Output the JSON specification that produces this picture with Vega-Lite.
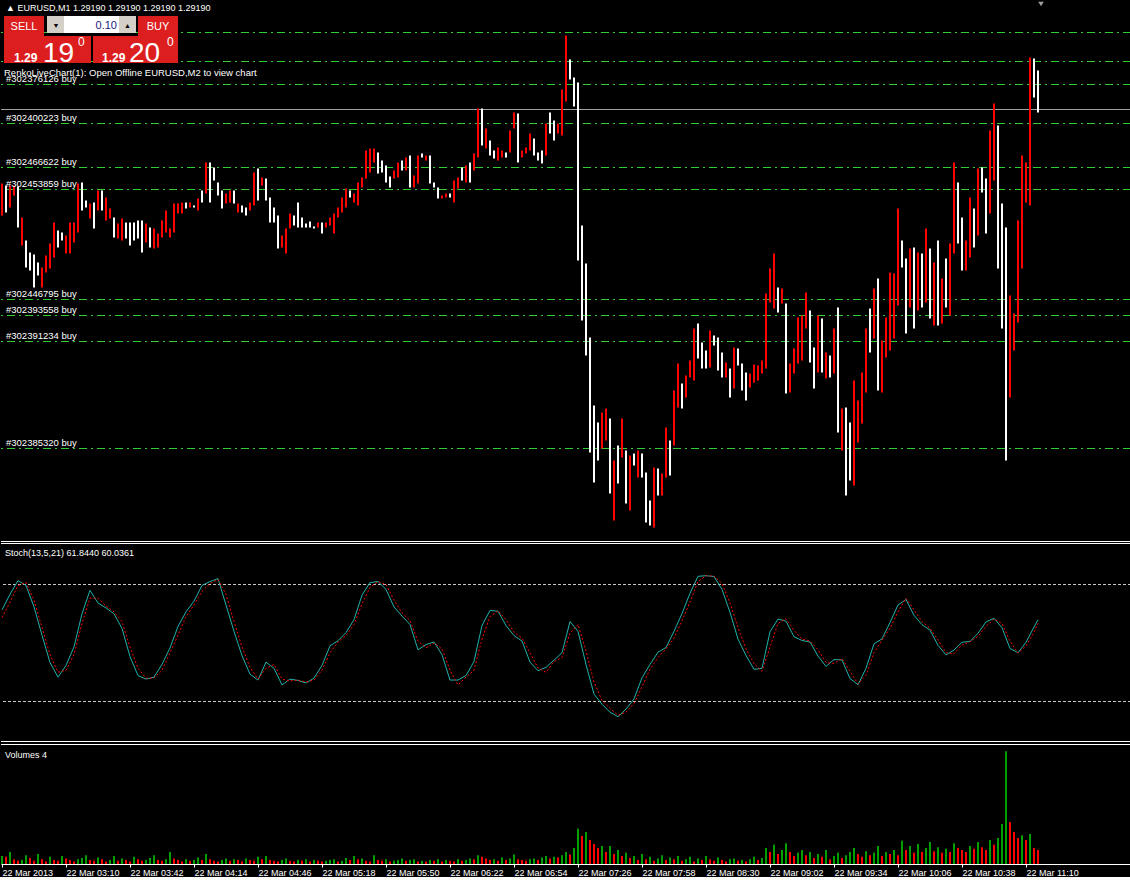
{
"$schema": "https://vega.github.io/schema/vega-lite/v6.json",
"background": "#000000",
"padding": 0,
"spacing": 0,
"config": {"view": {"stroke": null}, "text": {"font": "Liberation Sans"}},
"datasets": {
"orders": [
{"price":1.29267,"label":""},{"price":1.29238,"label":""},{"price":1.29215,"label":"#302376126 buy"},{"price":1.29176,"label":"#302400223 buy"},{"price":1.29132,"label":"#302466622 buy"},{"price":1.29110,"label":"#302453859 buy"},{"price":1.29000,"label":"#302446795 buy"},{"price":1.28984,"label":"#302393558 buy"},{"price":1.28958,"label":"#302391234 buy"},{"price":1.28851,"label":"#302385320 buy"}
],
"bars": [
{"minute":0,"high":1.29116,"low":1.29084,"dir":"up","vol":20},
{"minute":2,"high":1.29114,"low":1.29087,"dir":"down","vol":18},
{"minute":4,"high":1.29114,"low":1.29092,"dir":"up","vol":30},
{"minute":6,"high":1.29114,"low":1.29104,"dir":"up","vol":12},
{"minute":8,"high":1.29113,"low":1.29072,"dir":"down","vol":8},
{"minute":10,"high":1.29082,"low":1.29054,"dir":"up","vol":10},
{"minute":12,"high":1.29059,"low":1.29032,"dir":"down","vol":22},
{"minute":14,"high":1.29047,"low":1.29029,"dir":"down","vol":15},
{"minute":16,"high":1.29045,"low":1.29012,"dir":"down","vol":8},
{"minute":18,"high":1.29037,"low":1.29024,"dir":"down","vol":25},
{"minute":20,"high":1.29032,"low":1.29012,"dir":"up","vol":12},
{"minute":22,"high":1.29044,"low":1.29027,"dir":"up","vol":6},
{"minute":24,"high":1.29056,"low":1.29031,"dir":"up","vol":18},
{"minute":26,"high":1.29077,"low":1.29042,"dir":"up","vol":10},
{"minute":28,"high":1.29069,"low":1.29052,"dir":"down","vol":8},
{"minute":30,"high":1.29067,"low":1.29059,"dir":"down","vol":20},
{"minute":32,"high":1.29064,"low":1.29046,"dir":"up","vol":14},
{"minute":34,"high":1.29077,"low":1.29046,"dir":"up","vol":10},
{"minute":36,"high":1.29077,"low":1.29057,"dir":"up","vol":6},
{"minute":38,"high":1.29116,"low":1.29067,"dir":"up","vol":12},
{"minute":40,"high":1.29117,"low":1.29089,"dir":"down","vol":15},
{"minute":42,"high":1.29099,"low":1.29092,"dir":"down","vol":22},
{"minute":44,"high":1.29096,"low":1.29081,"dir":"up","vol":10},
{"minute":46,"high":1.29097,"low":1.29071,"dir":"down","vol":8},
{"minute":48,"high":1.29109,"low":1.29089,"dir":"up","vol":16},
{"minute":50,"high":1.29109,"low":1.29089,"dir":"down","vol":12},
{"minute":52,"high":1.29102,"low":1.29079,"dir":"up","vol":6},
{"minute":54,"high":1.29091,"low":1.29081,"dir":"up","vol":10},
{"minute":56,"high":1.29082,"low":1.29062,"dir":"down","vol":20},
{"minute":58,"high":1.29076,"low":1.29061,"dir":"up","vol":8},
{"minute":60,"high":1.29081,"low":1.29059,"dir":"up","vol":14},
{"minute":62,"high":1.29077,"low":1.29061,"dir":"down","vol":10},
{"minute":64,"high":1.29077,"low":1.29054,"dir":"down","vol":6},
{"minute":66,"high":1.29077,"low":1.29059,"dir":"down","vol":18},
{"minute":68,"high":1.29079,"low":1.29061,"dir":"down","vol":12},
{"minute":70,"high":1.29079,"low":1.29047,"dir":"down","vol":8},
{"minute":72,"high":1.29076,"low":1.29057,"dir":"up","vol":10},
{"minute":74,"high":1.29072,"low":1.29052,"dir":"down","vol":15},
{"minute":76,"high":1.29071,"low":1.29051,"dir":"up","vol":22},
{"minute":78,"high":1.29066,"low":1.29052,"dir":"up","vol":10},
{"minute":80,"high":1.29079,"low":1.29062,"dir":"up","vol":8},
{"minute":82,"high":1.29089,"low":1.29067,"dir":"up","vol":12},
{"minute":84,"high":1.29071,"low":1.29062,"dir":"up","vol":30},
{"minute":86,"high":1.29096,"low":1.29067,"dir":"up","vol":14},
{"minute":88,"high":1.29096,"low":1.29086,"dir":"up","vol":10},
{"minute":90,"high":1.29097,"low":1.29086,"dir":"up","vol":6},
{"minute":92,"high":1.29097,"low":1.29091,"dir":"down","vol":12},
{"minute":94,"high":1.29097,"low":1.29092,"dir":"up","vol":8},
{"minute":96,"high":1.29094,"low":1.29092,"dir":"down","vol":10},
{"minute":98,"high":1.29101,"low":1.29089,"dir":"up","vol":16},
{"minute":100,"high":1.29109,"low":1.29097,"dir":"down","vol":10},
{"minute":102,"high":1.29137,"low":1.29106,"dir":"up","vol":25},
{"minute":104,"high":1.29137,"low":1.29097,"dir":"down","vol":12},
{"minute":106,"high":1.29132,"low":1.29119,"dir":"down","vol":8},
{"minute":108,"high":1.29117,"low":1.29104,"dir":"down","vol":6},
{"minute":110,"high":1.29109,"low":1.29091,"dir":"down","vol":10},
{"minute":112,"high":1.29106,"low":1.29096,"dir":"up","vol":14},
{"minute":114,"high":1.29109,"low":1.29097,"dir":"up","vol":8},
{"minute":116,"high":1.29109,"low":1.29096,"dir":"down","vol":12},
{"minute":118,"high":1.29096,"low":1.29087,"dir":"up","vol":10},
{"minute":120,"high":1.29094,"low":1.29087,"dir":"down","vol":6},
{"minute":122,"high":1.29092,"low":1.29084,"dir":"down","vol":14},
{"minute":124,"high":1.29097,"low":1.29089,"dir":"up","vol":10},
{"minute":126,"high":1.29127,"low":1.29094,"dir":"up","vol":8},
{"minute":128,"high":1.29131,"low":1.29099,"dir":"down","vol":18},
{"minute":130,"high":1.29122,"low":1.29114,"dir":"up","vol":12},
{"minute":132,"high":1.29121,"low":1.29099,"dir":"down","vol":20},
{"minute":134,"high":1.29102,"low":1.29077,"dir":"down","vol":10},
{"minute":136,"high":1.29092,"low":1.29077,"dir":"down","vol":8},
{"minute":138,"high":1.29084,"low":1.29051,"dir":"down","vol":6},
{"minute":140,"high":1.29064,"low":1.29052,"dir":"up","vol":10},
{"minute":142,"high":1.29071,"low":1.29046,"dir":"up","vol":14},
{"minute":144,"high":1.29086,"low":1.29071,"dir":"up","vol":8},
{"minute":146,"high":1.29084,"low":1.29074,"dir":"down","vol":6},
{"minute":148,"high":1.29097,"low":1.29072,"dir":"down","vol":10},
{"minute":150,"high":1.29082,"low":1.29072,"dir":"down","vol":8},
{"minute":152,"high":1.29076,"low":1.29072,"dir":"down","vol":12},
{"minute":154,"high":1.29078,"low":1.29072,"dir":"down","vol":6},
{"minute":156,"high":1.29073,"low":1.29071,"dir":"down","vol":10},
{"minute":158,"high":1.29077,"low":1.29072,"dir":"up","vol":8},
{"minute":160,"high":1.29077,"low":1.29066,"dir":"down","vol":6},
{"minute":162,"high":1.29077,"low":1.29072,"dir":"up","vol":8},
{"minute":164,"high":1.29082,"low":1.29074,"dir":"up","vol":10},
{"minute":166,"high":1.29086,"low":1.29066,"dir":"up","vol":12},
{"minute":168,"high":1.29092,"low":1.29082,"dir":"up","vol":6},
{"minute":170,"high":1.29102,"low":1.29087,"dir":"up","vol":8},
{"minute":172,"high":1.29111,"low":1.29092,"dir":"up","vol":15},
{"minute":174,"high":1.29109,"low":1.29102,"dir":"down","vol":10},
{"minute":176,"high":1.29106,"low":1.29097,"dir":"up","vol":20},
{"minute":178,"high":1.29117,"low":1.29094,"dir":"up","vol":12},
{"minute":180,"high":1.29122,"low":1.29112,"dir":"up","vol":14},
{"minute":182,"high":1.29149,"low":1.29121,"dir":"up","vol":8},
{"minute":184,"high":1.29151,"low":1.29127,"dir":"up","vol":6},
{"minute":186,"high":1.29151,"low":1.29137,"dir":"up","vol":22},
{"minute":188,"high":1.29147,"low":1.29126,"dir":"down","vol":10},
{"minute":190,"high":1.29139,"low":1.29127,"dir":"down","vol":8},
{"minute":192,"high":1.29134,"low":1.29117,"dir":"down","vol":12},
{"minute":194,"high":1.29123,"low":1.29112,"dir":"down","vol":6},
{"minute":196,"high":1.29129,"low":1.29121,"dir":"up","vol":8},
{"minute":198,"high":1.29137,"low":1.29122,"dir":"up","vol":10},
{"minute":200,"high":1.29139,"low":1.29129,"dir":"down","vol":14},
{"minute":202,"high":1.29142,"low":1.29129,"dir":"up","vol":8},
{"minute":204,"high":1.29144,"low":1.29112,"dir":"down","vol":10},
{"minute":206,"high":1.29124,"low":1.29112,"dir":"up","vol":12},
{"minute":208,"high":1.29144,"low":1.29116,"dir":"up","vol":6},
{"minute":210,"high":1.29146,"low":1.29142,"dir":"down","vol":8},
{"minute":212,"high":1.29144,"low":1.29139,"dir":"up","vol":6},
{"minute":214,"high":1.29144,"low":1.29116,"dir":"down","vol":10},
{"minute":216,"high":1.29117,"low":1.29112,"dir":"down","vol":8},
{"minute":218,"high":1.29112,"low":1.29101,"dir":"down","vol":12},
{"minute":220,"high":1.29104,"low":1.29101,"dir":"up","vol":6},
{"minute":222,"high":1.29106,"low":1.29102,"dir":"up","vol":10},
{"minute":224,"high":1.29106,"low":1.29102,"dir":"down","vol":8},
{"minute":226,"high":1.29119,"low":1.29097,"dir":"up","vol":6},
{"minute":228,"high":1.29122,"low":1.29111,"dir":"up","vol":12},
{"minute":230,"high":1.29132,"low":1.29119,"dir":"down","vol":8},
{"minute":232,"high":1.29134,"low":1.29117,"dir":"up","vol":10},
{"minute":234,"high":1.29137,"low":1.29117,"dir":"down","vol":14},
{"minute":236,"high":1.29146,"low":1.29129,"dir":"up","vol":12},
{"minute":238,"high":1.29191,"low":1.29142,"dir":"up","vol":22},
{"minute":240,"high":1.29191,"low":1.29154,"dir":"down","vol":18},
{"minute":242,"high":1.29171,"low":1.29151,"dir":"up","vol":14},
{"minute":244,"high":1.29159,"low":1.29144,"dir":"down","vol":10},
{"minute":246,"high":1.29149,"low":1.29141,"dir":"down","vol":12},
{"minute":248,"high":1.29152,"low":1.29139,"dir":"up","vol":8},
{"minute":250,"high":1.29149,"low":1.29142,"dir":"up","vol":16},
{"minute":252,"high":1.29147,"low":1.29142,"dir":"down","vol":10},
{"minute":254,"high":1.29169,"low":1.29147,"dir":"up","vol":14},
{"minute":256,"high":1.29187,"low":1.29171,"dir":"up","vol":24},
{"minute":258,"high":1.29186,"low":1.29137,"dir":"down","vol":12},
{"minute":260,"high":1.29149,"low":1.29142,"dir":"up","vol":10},
{"minute":262,"high":1.29152,"low":1.29146,"dir":"up","vol":8},
{"minute":264,"high":1.29166,"low":1.29149,"dir":"up","vol":12},
{"minute":266,"high":1.29161,"low":1.29144,"dir":"down","vol":14},
{"minute":268,"high":1.29147,"low":1.29139,"dir":"down","vol":10},
{"minute":270,"high":1.29149,"low":1.29136,"dir":"down","vol":16},
{"minute":272,"high":1.29176,"low":1.29144,"dir":"up","vol":20},
{"minute":274,"high":1.29187,"low":1.29166,"dir":"down","vol":14},
{"minute":276,"high":1.29179,"low":1.29159,"dir":"down","vol":18},
{"minute":278,"high":1.29176,"low":1.29166,"dir":"up","vol":16},
{"minute":280,"high":1.29210,"low":1.29164,"dir":"up","vol":22},
{"minute":282,"high":1.29264,"low":1.29198,"dir":"up","vol":30},
{"minute":284,"high":1.29240,"low":1.29220,"dir":"down","vol":24},
{"minute":286,"high":1.29222,"low":1.29193,"dir":"down","vol":40},
{"minute":288,"high":1.29217,"low":1.29039,"dir":"down","vol":88},
{"minute":290,"high":1.29074,"low":1.28979,"dir":"down","vol":70},
{"minute":292,"high":1.29036,"low":1.28944,"dir":"down","vol":80},
{"minute":294,"high":1.28962,"low":1.28847,"dir":"down","vol":60},
{"minute":296,"high":1.28894,"low":1.28817,"dir":"down","vol":50},
{"minute":298,"high":1.28877,"low":1.28839,"dir":"down","vol":40},
{"minute":300,"high":1.28887,"low":1.28851,"dir":"up","vol":45},
{"minute":302,"high":1.28891,"low":1.28859,"dir":"up","vol":30},
{"minute":304,"high":1.28881,"low":1.28806,"dir":"down","vol":45},
{"minute":306,"high":1.28839,"low":1.28779,"dir":"up","vol":25},
{"minute":308,"high":1.28854,"low":1.28816,"dir":"down","vol":35},
{"minute":310,"high":1.28881,"low":1.28842,"dir":"up","vol":20},
{"minute":312,"high":1.28849,"low":1.28796,"dir":"down","vol":28},
{"minute":314,"high":1.28844,"low":1.28789,"dir":"up","vol":15},
{"minute":316,"high":1.28846,"low":1.28834,"dir":"down","vol":20},
{"minute":318,"high":1.28849,"low":1.28822,"dir":"up","vol":10},
{"minute":320,"high":1.28846,"low":1.28822,"dir":"down","vol":25},
{"minute":322,"high":1.28827,"low":1.28777,"dir":"down","vol":12},
{"minute":324,"high":1.28799,"low":1.28774,"dir":"down","vol":18},
{"minute":326,"high":1.28832,"low":1.28772,"dir":"up","vol":8},
{"minute":328,"high":1.28831,"low":1.28804,"dir":"down","vol":14},
{"minute":330,"high":1.28826,"low":1.28804,"dir":"up","vol":22},
{"minute":332,"high":1.28872,"low":1.28822,"dir":"up","vol":10},
{"minute":334,"high":1.28859,"low":1.28824,"dir":"down","vol":16},
{"minute":336,"high":1.28909,"low":1.28854,"dir":"up","vol":12},
{"minute":338,"high":1.28936,"low":1.28892,"dir":"up","vol":20},
{"minute":340,"high":1.28916,"low":1.28891,"dir":"down","vol":8},
{"minute":342,"high":1.28924,"low":1.28902,"dir":"up","vol":12},
{"minute":344,"high":1.28939,"low":1.28922,"dir":"up","vol":18},
{"minute":346,"high":1.28971,"low":1.28919,"dir":"up","vol":6},
{"minute":348,"high":1.28976,"low":1.28941,"dir":"down","vol":14},
{"minute":350,"high":1.28957,"low":1.28931,"dir":"down","vol":10},
{"minute":352,"high":1.28949,"low":1.28931,"dir":"down","vol":20},
{"minute":354,"high":1.28969,"low":1.28932,"dir":"up","vol":12},
{"minute":356,"high":1.28964,"low":1.28954,"dir":"down","vol":8},
{"minute":358,"high":1.28962,"low":1.28929,"dir":"down","vol":16},
{"minute":360,"high":1.28947,"low":1.28922,"dir":"down","vol":10},
{"minute":362,"high":1.28937,"low":1.28922,"dir":"up","vol":6},
{"minute":364,"high":1.28931,"low":1.28902,"dir":"down","vol":12},
{"minute":366,"high":1.28952,"low":1.28911,"dir":"up","vol":14},
{"minute":368,"high":1.28951,"low":1.28934,"dir":"down","vol":8},
{"minute":370,"high":1.28936,"low":1.28909,"dir":"down","vol":10},
{"minute":372,"high":1.28927,"low":1.28899,"dir":"down","vol":6},
{"minute":374,"high":1.28926,"low":1.28912,"dir":"up","vol":12},
{"minute":376,"high":1.28935,"low":1.28917,"dir":"up","vol":18},
{"minute":378,"high":1.28934,"low":1.28919,"dir":"up","vol":10},
{"minute":380,"high":1.28939,"low":1.28926,"dir":"up","vol":15},
{"minute":382,"high":1.29006,"low":1.28931,"dir":"up","vol":40},
{"minute":384,"high":1.29031,"low":1.28997,"dir":"up","vol":30},
{"minute":386,"high":1.29046,"low":1.28991,"dir":"up","vol":48},
{"minute":388,"high":1.29012,"low":1.28987,"dir":"down","vol":25},
{"minute":390,"high":1.29011,"low":1.28996,"dir":"up","vol":35},
{"minute":392,"high":1.28996,"low":1.28906,"dir":"down","vol":52},
{"minute":394,"high":1.28936,"low":1.28907,"dir":"up","vol":30},
{"minute":396,"high":1.28951,"low":1.28926,"dir":"up","vol":20},
{"minute":398,"high":1.28982,"low":1.28936,"dir":"up","vol":28},
{"minute":400,"high":1.28984,"low":1.28939,"dir":"up","vol":35},
{"minute":402,"high":1.29007,"low":1.28971,"dir":"up","vol":22},
{"minute":404,"high":1.28989,"low":1.28937,"dir":"down","vol":30},
{"minute":406,"high":1.28952,"low":1.28911,"dir":"down","vol":15},
{"minute":408,"high":1.28984,"low":1.28927,"dir":"up","vol":25},
{"minute":410,"high":1.28981,"low":1.28927,"dir":"down","vol":18},
{"minute":412,"high":1.28947,"low":1.28921,"dir":"up","vol":35},
{"minute":414,"high":1.28944,"low":1.28922,"dir":"down","vol":12},
{"minute":416,"high":1.28971,"low":1.28926,"dir":"up","vol":20},
{"minute":418,"high":1.28992,"low":1.28867,"dir":"down","vol":28},
{"minute":420,"high":1.28891,"low":1.28849,"dir":"up","vol":15},
{"minute":422,"high":1.28892,"low":1.28804,"dir":"down","vol":22},
{"minute":424,"high":1.28877,"low":1.28819,"dir":"down","vol":30},
{"minute":426,"high":1.28919,"low":1.28814,"dir":"up","vol":40},
{"minute":428,"high":1.28899,"low":1.28857,"dir":"up","vol":25},
{"minute":430,"high":1.28927,"low":1.28876,"dir":"up","vol":18},
{"minute":432,"high":1.28971,"low":1.28907,"dir":"up","vol":32},
{"minute":434,"high":1.28991,"low":1.28947,"dir":"down","vol":22},
{"minute":436,"high":1.29011,"low":1.28961,"dir":"up","vol":28},
{"minute":438,"high":1.29021,"low":1.28909,"dir":"down","vol":45},
{"minute":440,"high":1.28959,"low":1.28907,"dir":"up","vol":20},
{"minute":442,"high":1.28982,"low":1.28942,"dir":"up","vol":30},
{"minute":444,"high":1.29027,"low":1.28949,"dir":"up","vol":25},
{"minute":446,"high":1.29026,"low":1.28961,"dir":"up","vol":35},
{"minute":448,"high":1.29091,"low":1.28994,"dir":"up","vol":22},
{"minute":450,"high":1.29059,"low":1.29032,"dir":"down","vol":58},
{"minute":452,"high":1.29041,"low":1.28966,"dir":"down","vol":35},
{"minute":454,"high":1.29051,"low":1.28992,"dir":"up","vol":45},
{"minute":456,"high":1.29052,"low":1.28971,"dir":"down","vol":28},
{"minute":458,"high":1.29047,"low":1.28989,"dir":"up","vol":50},
{"minute":460,"high":1.29046,"low":1.28992,"dir":"down","vol":30},
{"minute":462,"high":1.29071,"low":1.28997,"dir":"up","vol":40},
{"minute":464,"high":1.29051,"low":1.28981,"dir":"down","vol":55},
{"minute":466,"high":1.29037,"low":1.28974,"dir":"up","vol":32},
{"minute":468,"high":1.29059,"low":1.28974,"dir":"down","vol":42},
{"minute":470,"high":1.29021,"low":1.28976,"dir":"up","vol":28},
{"minute":472,"high":1.29041,"low":1.28992,"dir":"down","vol":38},
{"minute":474,"high":1.29056,"low":1.28984,"dir":"up","vol":30},
{"minute":476,"high":1.29137,"low":1.29046,"dir":"up","vol":52},
{"minute":478,"high":1.29117,"low":1.29056,"dir":"down","vol":40},
{"minute":480,"high":1.29082,"low":1.29029,"dir":"down","vol":35},
{"minute":482,"high":1.29059,"low":1.29029,"dir":"up","vol":30},
{"minute":484,"high":1.29102,"low":1.29042,"dir":"up","vol":45},
{"minute":486,"high":1.29091,"low":1.29052,"dir":"down","vol":38},
{"minute":488,"high":1.29131,"low":1.29064,"dir":"up","vol":55},
{"minute":490,"high":1.29132,"low":1.29107,"dir":"down","vol":42},
{"minute":492,"high":1.29121,"low":1.29066,"dir":"down","vol":35},
{"minute":494,"high":1.29169,"low":1.29086,"dir":"up","vol":60},
{"minute":496,"high":1.29196,"low":1.29119,"dir":"up","vol":48},
{"minute":498,"high":1.29174,"low":1.29031,"dir":"down","vol":65},
{"minute":500,"high":1.29096,"low":1.28971,"dir":"down","vol":100},
{"minute":502,"high":1.29072,"low":1.28839,"dir":"down","vol":282},
{"minute":504,"high":1.29004,"low":1.28902,"dir":"up","vol":105},
{"minute":506,"high":1.28986,"low":1.28949,"dir":"up","vol":80},
{"minute":508,"high":1.29079,"low":1.28977,"dir":"up","vol":65},
{"minute":510,"high":1.29144,"low":1.29031,"dir":"up","vol":72},
{"minute":512,"high":1.29137,"low":1.29097,"dir":"up","vol":60},
{"minute":514,"high":1.29242,"low":1.29094,"dir":"up","vol":75},
{"minute":516,"high":1.29241,"low":1.29202,"dir":"down","vol":40},
{"minute":518,"high":1.29229,"low":1.29187,"dir":"down","vol":35}
],
"stoch": [
{"minute":0,"k":67,"d":63},{"minute":4,"k":75,"d":71},{"minute":8,"k":82,"d":79.5},{"minute":12,"k":79.5,"d":81},{"minute":16,"k":68.5,"d":72},{"minute":20,"k":54,"d":58},{"minute":24,"k":40,"d":44},{"minute":28,"k":32.5,"d":35},{"minute":32,"k":38.5,"d":36},{"minute":36,"k":48,"d":44},
{"minute":40,"k":65,"d":60},{"minute":44,"k":77,"d":73},{"minute":48,"k":70.5,"d":73},{"minute":52,"k":68,"d":69},{"minute":56,"k":65,"d":66},{"minute":60,"k":57.5,"d":61},{"minute":64,"k":43,"d":48},{"minute":68,"k":33.3,"d":37},{"minute":72,"k":31.5,"d":32},{"minute":76,"k":32.5,"d":32},
{"minute":80,"k":39,"d":36},{"minute":84,"k":47.5,"d":45},{"minute":88,"k":58.5,"d":54},{"minute":92,"k":66,"d":63.5},{"minute":96,"k":71.5,"d":69.5},{"minute":100,"k":79.5,"d":76.5},{"minute":104,"k":81.5,"d":80.5},{"minute":108,"k":83,"d":82.5},{"minute":112,"k":69.5,"d":75},{"minute":116,"k":56,"d":61},
{"minute":120,"k":43.5,"d":48},{"minute":124,"k":34,"d":37.5},{"minute":128,"k":31,"d":31.5},{"minute":132,"k":40.2,"d":37},{"minute":136,"k":37,"d":39},{"minute":140,"k":28.5,"d":31.5},{"minute":144,"k":31.5,"d":30.5},{"minute":148,"k":30.8,"d":31},{"minute":152,"k":29.5,"d":30},{"minute":156,"k":32,"d":31},
{"minute":160,"k":38.5,"d":36},{"minute":164,"k":48.5,"d":45},{"minute":168,"k":51.2,"d":50.5},{"minute":172,"k":55.3,"d":53.8},{"minute":176,"k":62,"d":59.5},{"minute":180,"k":74.5,"d":70},{"minute":184,"k":81,"d":78.5},{"minute":188,"k":81.5,"d":81.5},{"minute":192,"k":77.5,"d":80},{"minute":196,"k":68.5,"d":72},
{"minute":200,"k":63.8,"d":65.5},{"minute":204,"k":59.5,"d":61.5},{"minute":208,"k":46.5,"d":51},{"minute":212,"k":49.2,"d":47.5},{"minute":216,"k":50.5,"d":50},{"minute":220,"k":44,"d":47},{"minute":224,"k":31,"d":36},{"minute":228,"k":31,"d":28.5},{"minute":232,"k":33.3,"d":32.5},{"minute":236,"k":40.5,"d":36},
{"minute":240,"k":59,"d":52},{"minute":244,"k":66.7,"d":63.5},{"minute":248,"k":66.3,"d":66.5},{"minute":252,"k":59,"d":62},{"minute":256,"k":53.8,"d":55.5},{"minute":260,"k":51,"d":52.5},{"minute":264,"k":40.2,"d":45},{"minute":268,"k":35.8,"d":37.2},{"minute":272,"k":37.5,"d":35},{"minute":276,"k":41.2,"d":40.5},
{"minute":280,"k":45,"d":42.5},{"minute":284,"k":61,"d":55},{"minute":288,"k":56,"d":59.5},{"minute":292,"k":39,"d":46},{"minute":296,"k":23.8,"d":30},{"minute":300,"k":18.6,"d":20.5},{"minute":304,"k":14.5,"d":16.5},{"minute":308,"k":12.2,"d":13},{"minute":312,"k":16.1,"d":14.5},{"minute":316,"k":21.3,"d":19},
{"minute":320,"k":32.2,"d":27.5},{"minute":324,"k":39,"d":36.5},{"minute":328,"k":45.3,"d":42.5},{"minute":332,"k":47.7,"d":47},{"minute":336,"k":56,"d":52.5},{"minute":340,"k":65.1,"d":61.5},{"minute":344,"k":75.5,"d":71},{"minute":348,"k":84.2,"d":81.5},{"minute":352,"k":84.5,"d":84.5},{"minute":356,"k":84.1,"d":84.3},
{"minute":360,"k":77.5,"d":80.5},{"minute":364,"k":65.7,"d":70.5},{"minute":368,"k":52,"d":58},{"minute":372,"k":43.6,"d":47},{"minute":376,"k":36.5,"d":39.5},{"minute":380,"k":37,"d":35.5},{"minute":384,"k":55.8,"d":48},{"minute":388,"k":62.3,"d":60},{"minute":392,"k":61.2,"d":62.5},{"minute":396,"k":53.2,"d":56.5},
{"minute":400,"k":51.3,"d":52},{"minute":404,"k":50.5,"d":51},{"minute":408,"k":43.3,"d":46.5},{"minute":412,"k":38,"d":40},{"minute":416,"k":41.5,"d":39.5},{"minute":420,"k":41.3,"d":42},{"minute":424,"k":31.8,"d":35.5},{"minute":428,"k":28.6,"d":29},{"minute":432,"k":37,"d":33.5},{"minute":436,"k":49.6,"d":45},
{"minute":440,"k":52.1,"d":51.5},{"minute":444,"k":60.5,"d":57.5},{"minute":448,"k":69.5,"d":66},{"minute":452,"k":72.3,"d":73},{"minute":456,"k":64.2,"d":67},{"minute":460,"k":59.4,"d":61},{"minute":464,"k":56.6,"d":57.5},{"minute":468,"k":48.8,"d":51.5},{"minute":472,"k":43.9,"d":45},{"minute":476,"k":46.4,"d":44.5},
{"minute":480,"k":50.4,"d":49},{"minute":484,"k":50.8,"d":50.6},{"minute":488,"k":55,"d":53.5},{"minute":492,"k":60.8,"d":58.5},{"minute":496,"k":62.7,"d":62.3},{"minute":500,"k":57.8,"d":60},{"minute":504,"k":47.2,"d":51},{"minute":508,"k":45,"d":44.8},{"minute":512,"k":50.4,"d":48.5},{"minute":516,"k":58.2,"d":55.5},
{"minute":518,"k":61.844,"d":60.036}
]
},
"vconcat": [
{
"width": 1130, "height": 542,
"layer": [
{"data": {"name": "orders"}, "mark": {"type": "rule", "color": "#32cd32", "strokeWidth": 1, "strokeDash": [8, 4, 2, 4]},
 "encoding": {"y": {"field": "price", "type": "quantitative", "scale": {"domain": [1.287575, 1.292995], "nice": false, "zero": false}, "axis": null}}},
{"data": {"values": [{}]}, "mark": {"type": "rule", "color": "#a0a0a0", "strokeWidth": 1},
 "encoding": {"y": {"datum": 1.2919, "type": "quantitative", "axis": null}}},
{"data": {"name": "bars"}, "mark": {"type": "rule", "strokeWidth": 2},
 "encoding": {
  "x": {"field": "minute", "type": "quantitative", "scale": {"domain": [-0.5, 564.5], "nice": false, "zero": false}, "axis": null},
  "y": {"field": "high", "type": "quantitative", "axis": null},
  "y2": {"field": "low"},
  "color": {"field": "dir", "type": "nominal", "scale": {"domain": ["up", "down"], "range": ["#ff0000", "#ffffff"]}, "legend": null}}},
{"data": {"values": [{}]}, "mark": {"type": "rule", "color": "#ffffff", "strokeWidth": 1},
 "encoding": {"y": {"datum": 1.28758, "type": "quantitative", "axis": null}}},
{"data": {"name": "orders"}, "transform": [{"filter": "datum.label != ''"}],
 "mark": {"type": "text", "align": "left", "baseline": "alphabetic", "dy": -3, "fontSize": 9.5, "color": "#ffffff"},
 "encoding": {"x": {"datum": 2, "type": "quantitative", "axis": null}, "y": {"field": "price", "type": "quantitative", "axis": null}, "text": {"field": "label"}}},
{"data": {"values": [{}]}, "mark": {"type": "text", "text": "\u25b2 EURUSD,M1  1.29190 1.29190 1.29190 1.29190", "align": "left", "baseline": "alphabetic", "fontSize": 9, "color": "#ffffff"},
 "encoding": {"x": {"datum": 2, "type": "quantitative", "axis": null}, "y": {"datum": 1.292885, "type": "quantitative", "axis": null}}},
{"data": {"values": [{}]}, "mark": {"type": "text", "text": "RenkoLiveChart(1): Open Offline EURUSD,M2 to view chart", "align": "left", "baseline": "alphabetic", "fontSize": 9.5, "color": "#ffffff"},
 "encoding": {"x": {"datum": 1, "type": "quantitative", "axis": null}, "y": {"datum": 1.292235, "type": "quantitative", "axis": null}}},
{"data": {"values": [{}]}, "mark": {"type": "point", "shape": "triangle-down", "size": 30, "filled": true, "color": "#a0a0a0", "opacity": 1},
 "encoding": {"x": {"datum": 519.5, "type": "quantitative", "axis": null}, "y": {"datum": 1.292955, "type": "quantitative", "axis": null}}},
{"data": {"values": [{}]}, "mark": {"type": "rect", "color": "#dc1e1e"},
 "encoding": {"x": {"datum": 1, "type": "quantitative", "axis": null}, "x2": {"datum": 21}, "y": {"datum": 1.292835, "type": "quantitative", "axis": null}, "y2": {"datum": 1.292635}}},
{"data": {"values": [{}]}, "mark": {"type": "rect", "color": "#dc1e1e"},
 "encoding": {"x": {"datum": 1, "type": "quantitative", "axis": null}, "x2": {"datum": 44.5}, "y": {"datum": 1.292635, "type": "quantitative", "axis": null}, "y2": {"datum": 1.292365}}},
{"data": {"values": [{}]}, "mark": {"type": "rect", "color": "#dc1e1e"},
 "encoding": {"x": {"datum": 68, "type": "quantitative", "axis": null}, "x2": {"datum": 88}, "y": {"datum": 1.292835, "type": "quantitative", "axis": null}, "y2": {"datum": 1.292635}}},
{"data": {"values": [{}]}, "mark": {"type": "rect", "color": "#dc1e1e"},
 "encoding": {"x": {"datum": 45.5, "type": "quantitative", "axis": null}, "x2": {"datum": 88}, "y": {"datum": 1.292635, "type": "quantitative", "axis": null}, "y2": {"datum": 1.292365}}},
{"data": {"values": [{}]}, "mark": {"type": "rect", "color": "#d4d0c8"},
 "encoding": {"x": {"datum": 22.5, "type": "quantitative", "axis": null}, "x2": {"datum": 31}, "y": {"datum": 1.292835, "type": "quantitative", "axis": null}, "y2": {"datum": 1.292665}}},
{"data": {"values": [{}]}, "mark": {"type": "rect", "color": "#ffffff"},
 "encoding": {"x": {"datum": 31, "type": "quantitative", "axis": null}, "x2": {"datum": 58.5}, "y": {"datum": 1.292835, "type": "quantitative", "axis": null}, "y2": {"datum": 1.292665}}},
{"data": {"values": [{}]}, "mark": {"type": "rect", "color": "#d4d0c8"},
 "encoding": {"x": {"datum": 58.5, "type": "quantitative", "axis": null}, "x2": {"datum": 67}, "y": {"datum": 1.292835, "type": "quantitative", "axis": null}, "y2": {"datum": 1.292665}}},
{"data": {"values": [{}]}, "mark": {"type": "text", "text": "SELL", "align": "center", "baseline": "alphabetic", "fontSize": 11, "color": "#ffffff"},
 "encoding": {"x": {"datum": 11, "type": "quantitative", "axis": null}, "y": {"datum": 1.292695, "type": "quantitative", "axis": null}}},
{"data": {"values": [{}]}, "mark": {"type": "text", "text": "BUY", "align": "center", "baseline": "alphabetic", "fontSize": 11, "color": "#ffffff"},
 "encoding": {"x": {"datum": 78, "type": "quantitative", "axis": null}, "y": {"datum": 1.292695, "type": "quantitative", "axis": null}}},
{"data": {"values": [{}]}, "mark": {"type": "text", "text": "0.10", "align": "right", "baseline": "alphabetic", "fontSize": 11, "color": "#1a1a80"},
 "encoding": {"x": {"datum": 57.5, "type": "quantitative", "axis": null}, "y": {"datum": 1.292705, "type": "quantitative", "axis": null}}},
{"data": {"values": [{}]}, "mark": {"type": "text", "text": "\u25bc", "align": "center", "baseline": "alphabetic", "fontSize": 7, "color": "#000000"},
 "encoding": {"x": {"datum": 27, "type": "quantitative", "axis": null}, "y": {"datum": 1.292715, "type": "quantitative", "axis": null}}},
{"data": {"values": [{}]}, "mark": {"type": "text", "text": "\u25b2", "align": "center", "baseline": "alphabetic", "fontSize": 7, "color": "#000000"},
 "encoding": {"x": {"datum": 62.75, "type": "quantitative", "axis": null}, "y": {"datum": 1.292715, "type": "quantitative", "axis": null}}},
{"data": {"values": [{}]}, "mark": {"type": "text", "text": "1.29", "align": "left", "baseline": "alphabetic", "fontSize": 12, "fontWeight": "bold", "color": "#ffffff"},
 "encoding": {"x": {"datum": 6, "type": "quantitative", "axis": null}, "y": {"datum": 1.292375, "type": "quantitative", "axis": null}}},
{"data": {"values": [{}]}, "mark": {"type": "text", "text": "19", "align": "left", "baseline": "alphabetic", "fontSize": 28, "color": "#ffffff"},
 "encoding": {"x": {"datum": 20.5, "type": "quantitative", "axis": null}, "y": {"datum": 1.292375, "type": "quantitative", "axis": null}}},
{"data": {"values": [{}]}, "mark": {"type": "text", "text": "0", "align": "left", "baseline": "alphabetic", "fontSize": 12, "color": "#ffffff"},
 "encoding": {"x": {"datum": 38, "type": "quantitative", "axis": null}, "y": {"datum": 1.292535, "type": "quantitative", "axis": null}}},
{"data": {"values": [{}]}, "mark": {"type": "text", "text": "1.29", "align": "left", "baseline": "alphabetic", "fontSize": 12, "fontWeight": "bold", "color": "#ffffff"},
 "encoding": {"x": {"datum": 50, "type": "quantitative", "axis": null}, "y": {"datum": 1.292375, "type": "quantitative", "axis": null}}},
{"data": {"values": [{}]}, "mark": {"type": "text", "text": "20", "align": "left", "baseline": "alphabetic", "fontSize": 28, "color": "#ffffff"},
 "encoding": {"x": {"datum": 63.5, "type": "quantitative", "axis": null}, "y": {"datum": 1.292375, "type": "quantitative", "axis": null}}},
{"data": {"values": [{}]}, "mark": {"type": "text", "text": "0", "align": "left", "baseline": "alphabetic", "fontSize": 12, "color": "#ffffff"},
 "encoding": {"x": {"datum": 82.5, "type": "quantitative", "axis": null}, "y": {"datum": 1.292535, "type": "quantitative", "axis": null}}}
]
},
{
"width": 1130, "height": 200,
"layer": [
{"data": {"values": [{"level": 20}, {"level": 80}]}, "mark": {"type": "rule", "color": "#c8c8c8", "strokeWidth": 1, "strokeDash": [3, 2]},
 "encoding": {"y": {"field": "level", "type": "quantitative", "scale": {"domain": [-0.769, 101.795], "nice": false, "zero": false}, "axis": null}}},
{"data": {"values": [{}]}, "mark": {"type": "rule", "color": "#ffffff", "strokeWidth": 1},
 "encoding": {"y": {"datum": 101.026, "type": "quantitative", "axis": null}}},
{"data": {"values": [{}]}, "mark": {"type": "rule", "color": "#ffffff", "strokeWidth": 1},
 "encoding": {"y": {"datum": -0.513, "type": "quantitative", "axis": null}}},
{"data": {"name": "stoch"}, "mark": {"type": "line", "color": "#20b2aa", "strokeWidth": 1},
 "encoding": {"x": {"field": "minute", "type": "quantitative", "scale": {"domain": [-0.5, 564.5], "nice": false, "zero": false}, "axis": null},
  "y": {"field": "k", "type": "quantitative", "axis": null}}},
{"data": {"name": "stoch"}, "mark": {"type": "line", "color": "#ff0000", "strokeWidth": 1, "strokeDash": [2, 2]},
 "encoding": {"x": {"field": "minute", "type": "quantitative", "axis": null},
  "y": {"field": "d", "type": "quantitative", "axis": null}}},
{"data": {"values": [{}]}, "mark": {"type": "text", "text": "Stoch(13,5,21) 61.8440 60.0361", "align": "left", "baseline": "alphabetic", "fontSize": 9, "color": "#ffffff"},
 "encoding": {"x": {"datum": 1.5, "type": "quantitative", "axis": null}, "y": {"datum": 94.36, "type": "quantitative", "axis": null}}}
]
},
{
"width": 1130, "height": 121,
"layer": [
{"data": {"name": "bars"},
 "transform": [{"window": [{"op": "lag", "field": "vol", "as": "prev"}], "sort": [{"field": "minute", "order": "ascending"}]}],
 "mark": {"type": "rule", "strokeWidth": 2},
 "encoding": {
  "x": {"field": "minute", "type": "quantitative", "scale": {"domain": [-0.5, 564.5], "nice": false, "zero": false},
   "axis": {"values": [0, 32, 64, 96, 128, 160, 192, 224, 256, 288, 320, 352, 384, 416, 448, 480, 512],
    "labelExpr": "['22 Mar 2013','22 Mar 03:10','22 Mar 03:42','22 Mar 04:14','22 Mar 04:46','22 Mar 05:18','22 Mar 05:50','22 Mar 06:22','22 Mar 06:54','22 Mar 07:26','22 Mar 07:58','22 Mar 08:30','22 Mar 09:02','22 Mar 09:34','22 Mar 10:06','22 Mar 10:38','22 Mar 11:10'][round(datum.value/32)]",
    "title": null, "grid": false, "domain": true, "ticks": true, "labels": true, "domainColor": "#ffffff", "domainWidth": 1, "tickColor": "#ffffff", "tickSize": 3, "tickWidth": 1,
    "labelColor": "#ffffff", "labelFont": "Liberation Sans", "labelFontSize": 9, "labelAlign": "left", "labelBaseline": "top", "labelPadding": 1,
    "labelOverlap": false, "labelFlush": false, "labelBound": false}},
  "y": {"field": "vol", "type": "quantitative", "scale": {"domain": [0, 302.5], "nice": false, "zero": false}, "axis": null},
  "y2": {"datum": 0},
  "color": {"condition": {"test": "datum.prev == null || datum.vol > datum.prev", "value": "#00a000"}, "value": "#ff0000"}}},
{"data": {"values": [{}]}, "mark": {"type": "rule", "color": "#ffffff", "strokeWidth": 1},
 "encoding": {"y": {"datum": 298.75, "type": "quantitative", "axis": null}}},
{"data": {"values": [{}]}, "mark": {"type": "text", "text": "Volumes 4", "align": "left", "baseline": "alphabetic", "fontSize": 9, "color": "#ffffff"},
 "encoding": {"y": {"datum": 266.25, "type": "quantitative", "axis": null}, "x": {"datum": 1.5, "type": "quantitative"}}}
]
}
]
}
